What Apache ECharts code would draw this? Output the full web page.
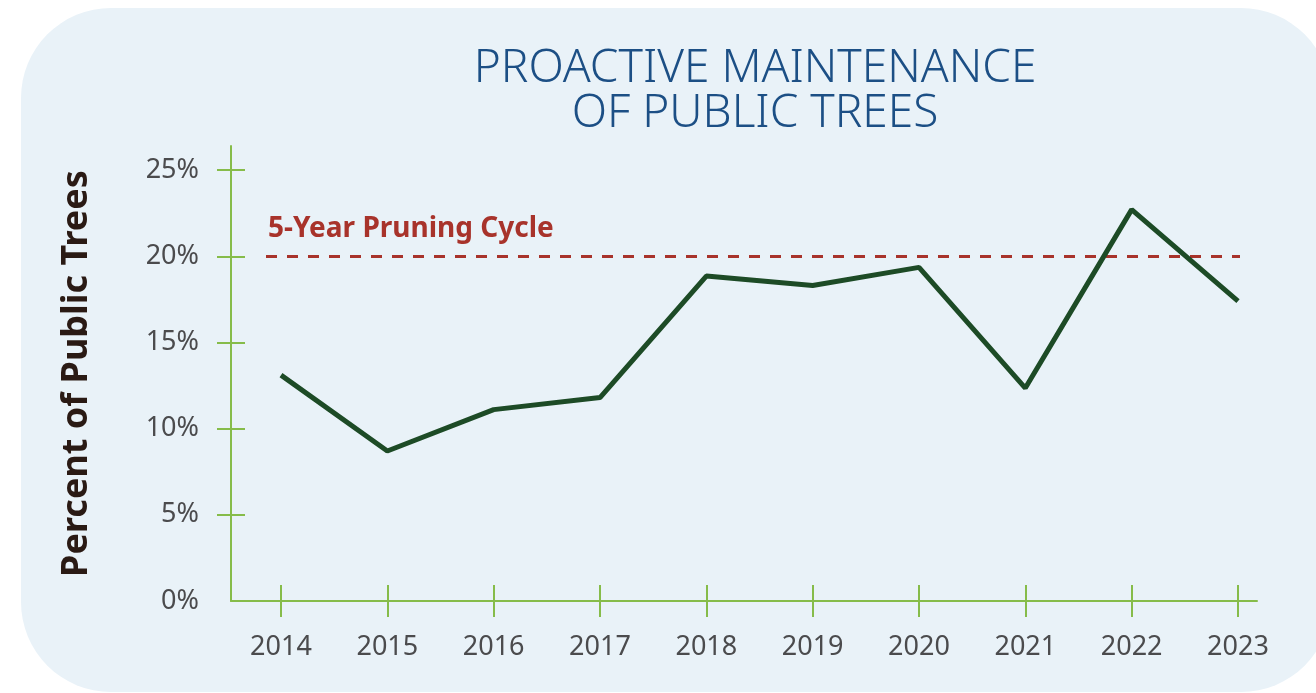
<!DOCTYPE html>
<html>
<head>
<meta charset="utf-8">
<script src="https://cdn.jsdelivr.net/npm/echarts@6/dist/echarts.min.js"></script>
<style>
  html, body { margin: 0; padding: 0; background: #fff; }
  #chart { width: 1316px; height: 693px; }
</style>
</head>
<body>
<div id="chart"></div>
<script>
// data
const years = ['2014', '2015', '2016', '2017', '2018', '2019', '2020', '2021', '2022', '2023']
const pctPruned = [13.1, 8.7, 11.1, 11.8, 18.85, 18.3, 19.35, 12.35, 22.7, 17.4]
const cycleTarget = 20
const cycleLabel = '5-Year Pruning Cycle'
const titleLines = ['PROACTIVE MAINTENANCE', 'OF PUBLIC TREES']
const yName = 'Percent of Public Trees'

const green = '#86bc4a'
const labelFont = { color: '#4b4b4d', fontSize: 27, fontFamily: 'Noto Sans' }

let chart = echarts.init(document.getElementById('chart'))

let option = {
  animation: false,
  graphic: [{
    type: 'rect',
    z: -10,
    shape: { x: 21, y: 8, width: 1310, height: 684, r: 90 },
    style: { fill: '#e9f2f8' }
  }],
  title: {
    text: titleLines.join('\n'),
    left: 750,
    top: 41,
    textAlign: 'center',
    textStyle: {
      color: '#1c4f85',
      fontSize: 46,
      fontWeight: 300,
      fontFamily: 'Noto Sans',
      lineHeight: 45
    }
  },
  grid: [
    // frame (axis lines)
    { left: 231, right: 59, top: 146, bottom: 92, outerBoundsMode: 'none' },
    // data
    { left: 281, right: 78, top: 170, bottom: 92, outerBoundsMode: 'none' },
    // y ticks 5..25
    { left: 231, right: 78, top: 170, bottom: 178, outerBoundsMode: 'none' },
    // reference line
    { left: 266, right: 76, top: 170, bottom: 92, outerBoundsMode: 'none' }
  ],
  xAxis: [
    {
      gridIndex: 0, type: 'value', min: 0, max: 1,
      axisLine: { show: true, lineStyle: { color: green, width: 2 } },
      axisTick: { show: false }, axisLabel: { show: false }, splitLine: { show: false }
    },
    {
      gridIndex: 1, type: 'category', data: years, boundaryGap: false, position: 'bottom',
      axisLine: { show: false },
      axisTick: { show: true, length: 16, lineStyle: { color: green, width: 2 } },
      axisLabel: Object.assign({ margin: 33 }, labelFont),
      splitLine: { show: false }
    },
    {
      gridIndex: 1, type: 'category', data: years, boundaryGap: false, position: 'bottom',
      axisLine: { show: false },
      axisTick: { show: true, inside: true, length: 16, lineStyle: { color: green, width: 2 } },
      axisLabel: { show: false },
      splitLine: { show: false }
    },
    { gridIndex: 2, type: 'value', min: 0, max: 1, show: false },
    { gridIndex: 3, type: 'value', min: 0, max: 1, show: false }
  ],
  yAxis: [
    {
      gridIndex: 0, type: 'value', min: 0, max: 1, position: 'left',
      axisLine: { show: true, lineStyle: { color: green, width: 2 } },
      axisTick: { show: false }, axisLabel: { show: false }, splitLine: { show: false },
      name: yName,
      nameLocation: 'middle',
      nameRotate: 90,
      nameGap: 136,
      nameTextStyle: { color: '#2a1a14', fontSize: 36, fontWeight: 'bold', fontFamily: 'Noto Sans' }
    },
    {
      gridIndex: 1, type: 'value', min: 0, max: 25, interval: 5, offset: 50, position: 'left',
      axisLine: { show: false }, axisTick: { show: false }, splitLine: { show: false },
      axisLabel: Object.assign({ margin: 32, formatter: '{value}%' }, labelFont)
    },
    {
      gridIndex: 2, type: 'value', min: 5, max: 25, interval: 5, position: 'left',
      axisLine: { show: false }, axisLabel: { show: false }, splitLine: { show: false },
      axisTick: { show: true, length: 14, lineStyle: { color: green, width: 2 } }
    },
    {
      gridIndex: 2, type: 'value', min: 5, max: 25, interval: 5, position: 'left',
      axisLine: { show: false }, axisLabel: { show: false }, splitLine: { show: false },
      axisTick: { show: true, inside: true, length: 14, lineStyle: { color: green, width: 2 } }
    },
    { gridIndex: 3, type: 'value', min: 0, max: 25, show: false }
  ],
  series: [
    {
      type: 'line',
      xAxisIndex: 1,
      yAxisIndex: 1,
      data: pctPruned,
      symbol: 'none',
      lineStyle: { color: '#1d4b26', width: 5 },
      z: 5
    },
    {
      type: 'line',
      xAxisIndex: 4,
      yAxisIndex: 4,
      data: [],
      symbol: 'none',
      markLine: {
        silent: true,
        symbol: 'none',
        lineStyle: { color: '#a8332b', width: 3, type: [11, 10] },
        label: {
          show: true,
          position: 'insideStartTop',
          distance: [2, 13],
          formatter: cycleLabel,
          color: '#a8332b',
          fontSize: 28,
          fontWeight: 'bold',
          fontFamily: 'Noto Sans'
        },
        data: [{ yAxis: cycleTarget }]
      }
    }
  ]
}
chart.setOption(option, true)
</script>
</body>
</html>
